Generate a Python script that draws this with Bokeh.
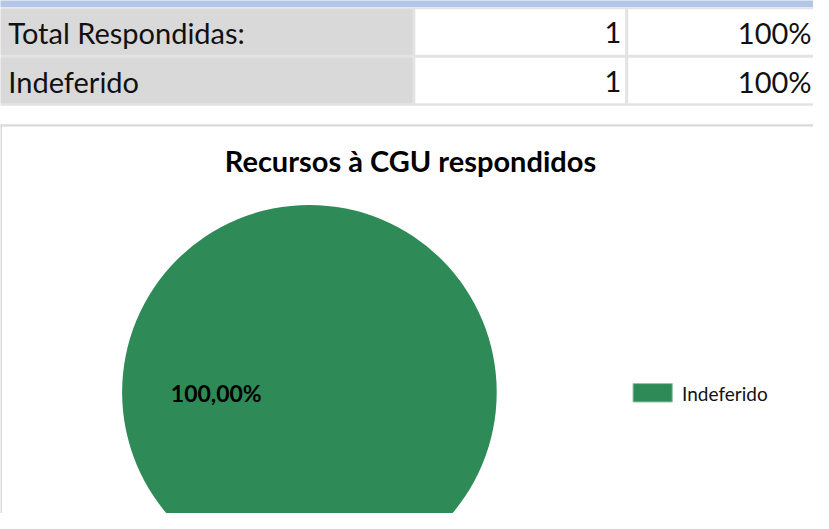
import numpy as np
from bokeh.plotting import figure
from bokeh.models import Range1d, ColumnDataSource
from bokeh.core.properties import value
from bokeh.embed import file_html
from bokeh.resources import INLINE

# ---- data ----
row_labels = ["Total Respondidas:", "Indeferido"]
row_counts = [1, 1]
row_pcts = ["100%", "100%"]

categories = ["Indeferido"]
counts = [1]
colors = ["#2e8b57"]
title = "Recursos à CGU respondidos"

FONT = "Lato"

p = figure(width=813, height=513, output_backend="svg", toolbar_location=None,
           x_range=Range1d(0, 829), y_range=Range1d(529, 0),
           min_border=0, outline_line_color=None)
p.axis.visible = False
p.grid.visible = False
p.background_fill_color = "white"
p.border_fill_color = "white"

# ---- table ----
row_top = [9, 59]
row_h = 47
col_x = [(0, 420), (423, 637), (640, 840)]
p.quad(left=[-5], right=[840], top=[-5], bottom=[7], fill_color="#b4c6e7", line_color=None)
p.quad(left=[-5], right=[840], top=[7], bottom=[108.5], fill_color="#e3e3e3", line_color=None)
for ri, top in enumerate(row_top):
    p.quad(left=[col_x[0][0]], right=[col_x[0][1]], top=[top], bottom=[top + row_h],
           fill_color="#d9d9d9", line_color=None)
    for (l, r) in col_x[1:]:
        p.quad(left=[l], right=[r], top=[top], bottom=[top + row_h],
               fill_color="white", line_color=None)

ys = [t + row_h / 2 + 1 for t in row_top]
p.text(x=[8] * len(row_labels), y=ys, text=row_labels, text_font=value(FONT),
       text_font_size="29px", text_baseline="middle", text_align="left", text_color="#111111")
p.text(x=[633] * len(row_counts), y=ys, text=[str(c) for c in row_counts], text_font=value(FONT),
       text_font_size="29px", text_baseline="middle", text_align="right", text_color="#111111")
p.text(x=[827] * len(row_pcts), y=ys, text=row_pcts, text_font=value(FONT),
       text_font_size="29px", text_baseline="middle", text_align="right", text_color="#111111")

# chart area border
p.quad(left=[-5], right=[840], top=[127.5], bottom=[130], fill_color="#d9d9d9", line_color=None)
p.quad(left=[-5], right=[1.5], top=[127.5], bottom=[540], fill_color="#d9d9d9", line_color=None)

# title
p.text(x=[418], y=[165], text=[title], text_font=value(FONT), text_font_style="bold",
       text_font_size="29px", text_baseline="middle", text_align="center", text_color="#000000")

# ---- pie ----
total = sum(counts)
fracs = np.array(counts) / total
ends = np.cumsum(fracs) * 2 * np.pi
starts = ends - fracs * 2 * np.pi
src = ColumnDataSource(dict(start=starts + np.pi / 2, end=ends + np.pi / 2, color=colors,
                            cat=categories))
p.wedge(x=315, y=404, radius=191, start_angle="start", end_angle="end",
        fill_color="color", line_color=None, source=src)

labels = [f"{f*100:.2f}%".replace(".", ",") for f in fracs]
p.text(x=[220], y=[405], text=labels, text_font=value(FONT), text_font_style="bold",
       text_font_size="23px", text_baseline="middle", text_align="center", text_color="#000000")

# legend
for i, (c, col) in enumerate(zip(categories, colors)):
    p.quad(left=[645], right=[685], top=[395 + i * 25], bottom=[414 + i * 25],
           fill_color=col, line_color="#8fc4a4", line_width=1)
    p.text(x=[695], y=[405 + i * 25], text=[c], text_font=value(FONT),
           text_font_size="19px", text_baseline="middle", text_align="left", text_color="#111111")

open("out.html", "w").write(file_html(p, INLINE))
